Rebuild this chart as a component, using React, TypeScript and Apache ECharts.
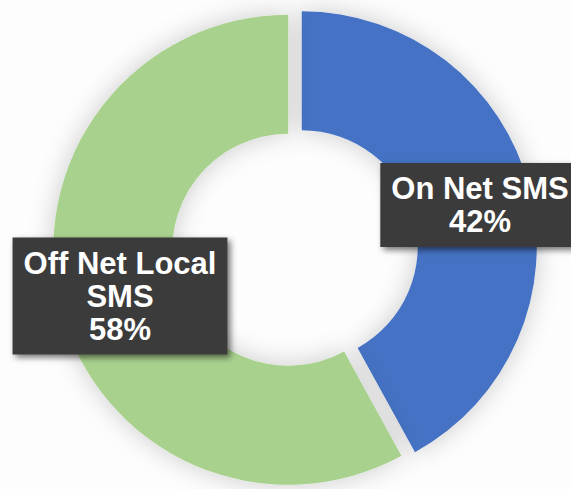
import React, { useEffect, useRef } from "react";
import * as echarts from "echarts";

const categories = ["On Net SMS", "Off Net Local SMS"];
const labelLines = ["On Net SMS", "Off Net Local\nSMS"];
const values = [42, 58];
const colors = ["#4472C4", "#A9D18E"];

export default function App() {
  const ref = useRef<HTMLDivElement>(null);
  useEffect(() => {
    if (!ref.current) return;
    const chart = echarts.init(ref.current, null, { renderer: "svg" });
    const baseCenter = [295, 248];
    const explode = 7;
    const total = values.reduce((a, b) => a + b, 0);
    const labelPos = [
      { x: 480, y: 205 },
      { x: 120, y: 296 },
    ];
    let acc = 0;
    const series = categories.map((_, k) => {
      const mid = ((acc + values[k] / 2) / total) * Math.PI * 2;
      acc += values[k];
      const cx = baseCenter[0] + explode * Math.sin(mid);
      const cy = baseCenter[1] - explode * Math.cos(mid);
      return {
        type: "pie",
        center: [cx, cy],
        radius: [116, 235],
        startAngle: 90,
        clockwise: true,
        percentPrecision: 0,
        avoidLabelOverlap: false,
        emphasis: { disabled: true },
        itemStyle: {
          shadowBlur: 26,
          shadowColor: "rgba(0,0,0,0.2)",
        },
        label: {
          show: true,
          position: "inside",
          formatter: (p: any) => `${labelLines[p.dataIndex]}\n${p.percent}%`,
          color: "#ffffff",
          fontFamily: "Liberation Sans, Arial, sans-serif",
          fontWeight: "bold",
          fontSize: 31,
          lineHeight: 33,
          align: "center",
          backgroundColor: "#3b3b3b",
          padding: [9, 11, 9, 11],
          shadowColor: "rgba(0,0,0,0.55)",
          shadowBlur: 6,
          shadowOffsetX: 3,
          shadowOffsetY: 3,
        },
        labelLine: { show: false },
        labelLayout: (params: any) => ({
          x: labelPos[params.dataIndex].x,
          y: labelPos[params.dataIndex].y,
          align: "center",
          verticalAlign: "middle",
        }),
        data: categories.map((name, i) => ({
          name,
          value: values[i],
          itemStyle: i === k ? { color: colors[i] } : { color: colors[i], opacity: 0 },
          label: i === k ? {} : { show: false },
        })),
      };
    });
    chart.setOption({
      animation: false,
      backgroundColor: "#fdfdfd",
      series,
    });
    return () => chart.dispose();
  }, []);
  return (
    <div
      ref={ref}
      style={{ position: "fixed", left: 0, top: 0, width: 571, height: 489 }}
    />
  );
}
